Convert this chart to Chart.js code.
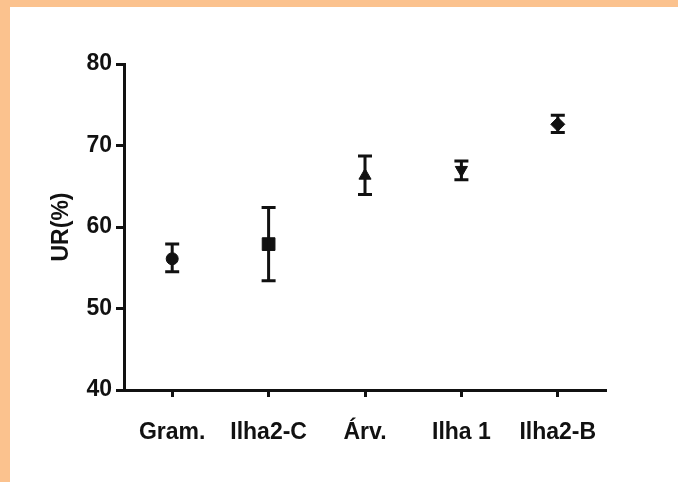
<!DOCTYPE html>
<html>
<head>
<meta charset="utf-8">
<script src="https://cdn.jsdelivr.net/npm/chart.js@4/dist/chart.umd.min.js"></script>
<style>
  html, body { margin: 0; padding: 0; background: #FBC28E; width: 678px; height: 482px; overflow: hidden; }
  #wrap { position: absolute; left: 10px; top: 7px; width: 668px; height: 475px; background: #ffffff; }
  canvas { display: block; }
</style>
</head>
<body>
<div id="wrap"><canvas id="c" width="668" height="475"></canvas></div>
<script>
const categories = ['Gram.', 'Ilha2-C', 'Árv.', 'Ilha 1', 'Ilha2-B'];
const means    = [56.1, 57.9, 66.3, 67.0, 72.6];
const errLow   = [54.5, 53.4, 64.0, 65.8, 71.6];
const errHigh  = [57.9, 62.4, 68.7, 68.1, 73.7];
const markerStyles = ['circle', 'rect', 'triangle', 'triangle', 'rectRot'];
const markerRotation = [0, 0, 0, 180, 0];
const markerRadius = [6, 9, 7, 7, 7];
const yTicks = [40, 50, 60, 70, 80];

const ink = '#111111';
const fontSpec = { family: '"Liberation Sans", Arial, sans-serif', size: 23, weight: 'bold' };

const errorBars = {
  id: 'errorBars',
  afterDatasetsDraw(chart) {
    const ctx = chart.ctx;
    const meta = chart.getDatasetMeta(0);
    const y = chart.scales.y;
    ctx.save();
    ctx.strokeStyle = ink;
    ctx.lineWidth = 3;
    meta.data.forEach((pt, i) => {
      const x = pt.x;
      const yl = y.getPixelForValue(errLow[i]);
      const yh = y.getPixelForValue(errHigh[i]);
      ctx.beginPath();
      ctx.moveTo(x, yl); ctx.lineTo(x, yh);
      ctx.moveTo(x - 7, yl); ctx.lineTo(x + 7, yl);
      ctx.moveTo(x - 7, yh); ctx.lineTo(x + 7, yh);
      ctx.stroke();
    });
    ctx.restore();
  }
};

new Chart(document.getElementById('c'), {
  type: 'line',
  data: {
    labels: categories,
    datasets: [{
      data: means,
      showLine: false,
      pointStyle: markerStyles,
      rotation: markerRotation,
      pointRadius: markerRadius,
      pointHoverRadius: markerRadius,
      pointBackgroundColor: ink,
      pointBorderColor: ink,
      pointBorderWidth: 1
    }]
  },
  options: {
    responsive: false,
    animation: false,
    events: [],
    layout: { padding: { left: 0, right: 72, top: 57, bottom: 0 } },
    plugins: { legend: { display: false }, tooltip: { enabled: false } },
    scales: {
      x: {
        type: 'category',
        offset: true,
        grid: { offset: false, drawOnChartArea: false, drawTicks: true, tickLength: 7, tickWidth: 3, tickColor: ink },
        border: { display: true, color: ink, width: 3 },
        ticks: { color: ink, font: fontSpec, padding: 22, maxRotation: 0, autoSkip: false },
        afterFit(scale) { scale.height = 92; }
      },
      y: {
        min: 40, max: 80,
        afterBuildTicks(scale) { scale.ticks = yTicks.map(v => ({ value: v })); },
        grid: { drawOnChartArea: false, drawTicks: true, tickLength: 8, tickWidth: 3, tickColor: ink },
        border: { display: true, color: ink, width: 3 },
        ticks: { color: ink, font: fontSpec, padding: 4 },
        title: { display: true, text: 'UR(%)', color: ink, font: fontSpec, padding: { top: 38, bottom: 4 } },
        afterFit(scale) { scale.width = 114; }
      }
    }
  },
  plugins: [errorBars]
});
</script>
</body>
</html>
